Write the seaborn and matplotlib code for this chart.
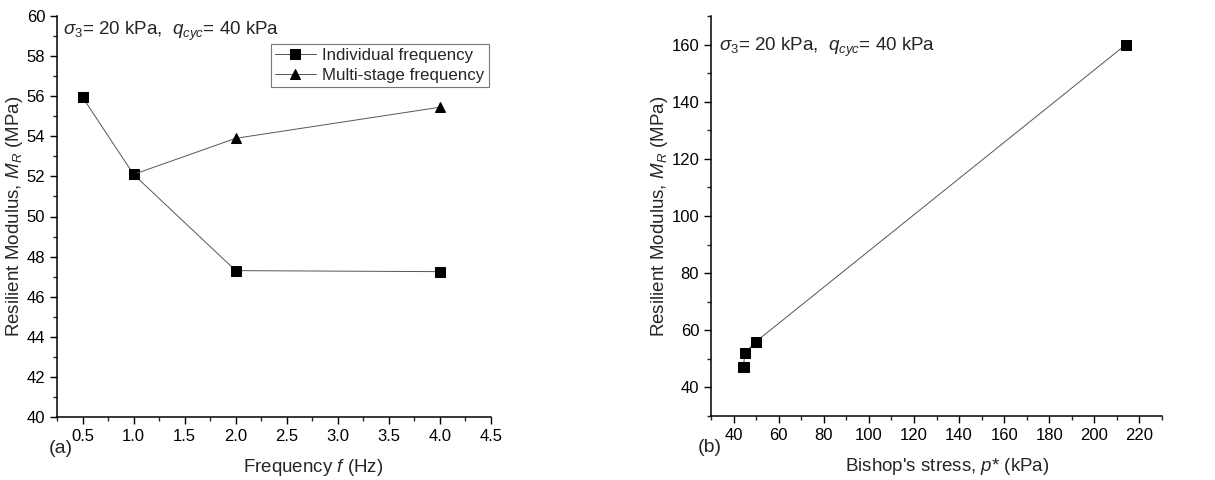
import seaborn as sns
import matplotlib.pyplot as plt
import pandas as pd
from matplotlib.ticker import MultipleLocator

# Data
freq_individual = [0.5, 1.0, 2.0, 4.0]
mr_individual = [55.95, 52.1, 47.3, 47.25]
freq_multi = [1.0, 2.0, 4.0]
mr_multi = [52.1, 53.9, 55.45]

bishop_stress = [44.6, 44.4, 45.0, 49.8, 214.0]
mr_bishop = [47.25, 47.3, 52.1, 55.95, 160.0]

sns.set_style("ticks")
plt.rcParams["font.family"] = ["Liberation Sans", "DejaVu Sans"]
plt.rcParams["mathtext.fontset"] = "custom"
plt.rcParams["mathtext.rm"] = "Liberation Sans"
plt.rcParams["mathtext.it"] = "Liberation Sans:italic"
plt.rcParams["xtick.direction"] = "out"
plt.rcParams["ytick.direction"] = "out"

df_ind = pd.DataFrame({"f": freq_individual, "MR": mr_individual})
df_multi = pd.DataFrame({"f": freq_multi, "MR": mr_multi})
df_b = pd.DataFrame({"p": bishop_stress, "MR": mr_bishop})

fig = plt.figure(figsize=(12.15, 4.8), dpi=100)
ax1 = fig.add_axes([57 / 1215, 1 - 417 / 480, 434 / 1215, 401 / 480])
ax2 = fig.add_axes([711 / 1215, 1 - 416 / 480, 451 / 1215, 400 / 480])

line_kw = dict(color="#555555", linewidth=0.7, markersize=7.5,
               markerfacecolor="black", markeredgecolor="black")

sns.lineplot(data=df_ind, x="f", y="MR", marker="s", ax=ax1,
             label="Individual frequency", **line_kw)
sns.lineplot(data=df_multi, x="f", y="MR", marker="^", ax=ax1,
             label="Multi-stage frequency", **line_kw)

ax1.set_xlim(0.25, 4.5)
ax1.set_ylim(40, 60)
ax1.xaxis.set_minor_locator(MultipleLocator(0.25))
ax1.yaxis.set_major_locator(MultipleLocator(2))
ax1.yaxis.set_minor_locator(MultipleLocator(1))
ax1.set_xticks([0.5, 1.0, 1.5, 2.0, 2.5, 3.0, 3.5, 4.0, 4.5])
ax1.set_xticklabels(["0.5", "1.0", "1.5", "2.0", "2.5", "3.0", "3.5", "4.0", "4.5"])
ax1.set_xlabel("Frequency $f$ (Hz)", fontsize=13.5)
ax1.xaxis.set_label_coords(0.59, -0.1)
ax1.set_ylabel("Resilient Modulus, $M_R$ (MPa)", fontsize=13.5, labelpad=1)
ax1.text(0.013, 0.99, r"$\sigma_3$= 20 kPa,  $q_{cyc}$= 40 kPa",
         transform=ax1.transAxes, fontsize=13.5, va="top", ha="left")
ax1.text(-0.02, -0.09, "(a)", transform=ax1.transAxes, fontsize=14, ha="left")
leg = ax1.legend(loc="upper right", bbox_to_anchor=(0.995, 0.93), fontsize=12.2,
                 frameon=True, fancybox=False, edgecolor="#555555",
                 borderpad=0.25, labelspacing=0.25, handlelength=2.4,
                 handletextpad=0.4, borderaxespad=0)
leg.get_frame().set_linewidth(0.8)

sns.lineplot(data=df_b, x="p", y="MR", marker="s", sort=False, estimator=None,
             ax=ax2, legend=False, **line_kw)
ax2.set_xlim(30, 230)
ax2.set_ylim(30, 170)
ax2.xaxis.set_minor_locator(MultipleLocator(10))
ax2.set_xticks(range(40, 221, 20))
ax2.yaxis.set_minor_locator(MultipleLocator(10))
ax2.set_yticks(range(40, 161, 20))
ax2.set_xlabel("Bishop's stress, $p$* (kPa)", fontsize=13.5)
ax2.xaxis.set_label_coords(0.523, -0.1)
ax2.set_ylabel("Resilient Modulus, $M_R$ (MPa)", fontsize=13.5, labelpad=1)
ax2.text(0.018, 0.95, r"$\sigma_3$= 20 kPa,  $q_{cyc}$= 40 kPa",
         transform=ax2.transAxes, fontsize=13.5, va="top", ha="left")
ax2.text(-0.03, -0.09, "(b)", transform=ax2.transAxes, fontsize=14, ha="left")

for ax in (ax1, ax2):
    sns.despine(ax=ax)
    ax.tick_params(which="major", length=5, width=1, labelsize=12, colors="black")
    ax.tick_params(which="minor", length=3, width=1)
    for s in ("left", "bottom"):
        ax.spines[s].set_linewidth(1.1)
        ax.spines[s].set_color("black")

fig.savefig("out.png", dpi=100)
